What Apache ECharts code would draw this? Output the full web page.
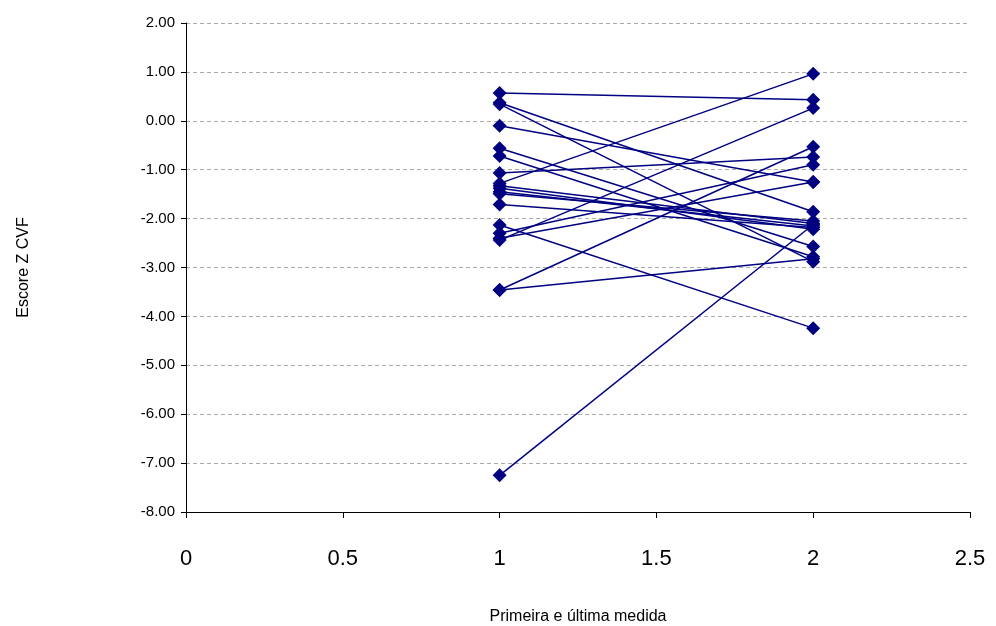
<!DOCTYPE html>
<html>
<head>
<meta charset="utf-8">
<script src="https://cdn.jsdelivr.net/npm/echarts@6/dist/echarts.min.js"></script>
<style>
html,body{margin:0;padding:0;background:#fff;}
#chart{width:996px;height:626px;}
</style>
</head>
<body>
<div id="chart"></div>
<script>
// Measurement positions (x)
const measures = [1, 2];
// Z-score at first measure, per subject
const firstScore = [0.57, 0.37, 0.34, -0.10, -0.56, -0.72, -1.07, -1.28, -1.33, -1.38, -1.45, -1.49, -1.71, -2.13, -2.30, -2.44, -2.40, -3.46, -3.46, -7.25];
// Z-score at last measure, per subject
const lastScore = [0.43, -1.86, -2.88, -1.25, -2.57, -2.78, -0.74, 0.96, -2.10, -2.22, -2.15, -2.05, -2.18, -4.24, -0.90, 0.26, -1.25, -0.53, -2.82, -2.12];
const xTicks = [0, 0.5, 1, 1.5, 2, 2.5];
const yTicks = [-8, -7, -6, -5, -4, -3, -2, -1, 0, 1, 2];

const color = '#000080';
const series = firstScore.map((v, i) => ({
  type: 'line',
  data: [[measures[0], v], [measures[1], lastScore[i]]],
  symbol: 'diamond',
  symbolSize: 14,
  lineStyle: { color: color, width: 1.5 },
  itemStyle: { color: color },
  animation: false,
  z: 3
}));

const chart = echarts.init(document.getElementById('chart'));
chart.setOption({
  backgroundColor: '#fff',
  animation: false,
  grid: { left: 186, right: 26, top: 23, bottom: 114, containLabel: false, outerBoundsMode: 'none' },
  xAxis: {
    type: 'value',
    min: xTicks[0], max: xTicks[xTicks.length - 1], interval: 0.5,
    name: 'Primeira e última medida',
    nameLocation: 'middle',
    nameGap: 97,
    nameTextStyle: { fontFamily: 'Liberation Sans, Arial', fontSize: 16, color: '#000' },
    axisLine: { show: true, onZero: false, lineStyle: { color: '#000', width: 1 } },
    axisTick: { show: true, length: 6, lineStyle: { color: '#000' } },
    axisLabel: { fontFamily: 'Liberation Sans, Arial', fontSize: 22, color: '#000', margin: 36,
      formatter: v => String(v) },
    splitLine: { show: false }
  },
  yAxis: {
    type: 'value',
    min: yTicks[0], max: yTicks[yTicks.length - 1], interval: 1,
    name: 'Escore Z CVF',
    nameLocation: 'middle',
    nameGap: 154,
    nameRotate: 90,
    nameTextStyle: { fontFamily: 'Liberation Sans, Arial', fontSize: 16, color: '#000' },
    axisLine: { show: true, onZero: false, lineStyle: { color: '#000', width: 1 } },
    axisTick: { show: true, length: 5, lineStyle: { color: '#000' } },
    axisLabel: { fontFamily: 'Liberation Sans, Arial', fontSize: 15, color: '#000', margin: 11,
      formatter: v => v.toFixed(2) },
    splitLine: { show: true, lineStyle: { color: '#aaaaaa', type: [4, 3], width: 1 } }
  },
  series: series
});
</script>
</body>
</html>
